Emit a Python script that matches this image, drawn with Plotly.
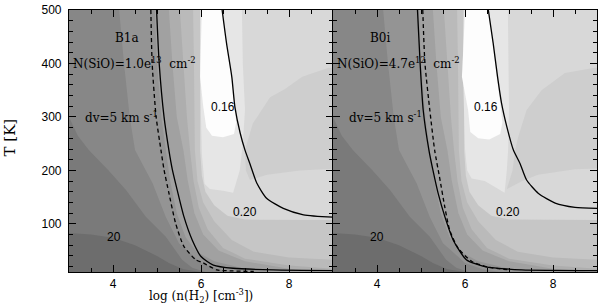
import plotly.graph_objects as go

# ---------------- data ----------------
x_range = [3, 9]          # log n(H2)
t_range = [10, 500]       # T [K]
x_ticks = [4, 6, 8]
t_ticks = [100, 200, 300, 400, 500]
pad_x = [2.5, 9.5]        # used only to close filled regions outside the frame
pad_t = [-20, 530]

# grey levels, dark -> light
shade_colors = ["#6d6d6d", "#7a7a7a", "#878787", "#949494", "#a1a1a1", "#aeaeae",
                "#bababa", "#c6c6c6", "#d8d8d8", "#e6e6e6", "#fdfdfd"]
blob_color = "#cecece"

# boundaries between grey level k-1 and k (darker side = left / below)
edge1_x = [3.0, 3.5, 4.0, 4.5, 5.0, 5.27, 5.6, 6.0]
edge1_t = [83, 80, 74, 60, 40, 27, 15, 10]
edge2_x = [3.0, 3.2, 3.45, 3.9, 4.3, 4.75, 5.2, 5.57, 5.8, 6.1]
edge2_t = [300, 265, 238, 200, 163, 113, 76, 33, 18, 10]
edge3_x = [4.14, 4.25, 4.38, 4.5, 4.9, 5.2, 5.5, 6.0, 6.4, 6.8]
edge3_t = [500, 400, 300, 238, 176, 113, 64, 27, 15, 10]
edge4_x = [4.95, 5.0, 5.1, 5.2, 5.3, 5.45, 5.65, 5.9, 6.3, 7.0, 7.6]
edge4_t = [500, 400, 300, 238, 180, 120, 75, 48, 30, 16, 10]
edge5_x = [5.27, 5.35, 5.45, 5.6, 5.7, 5.85, 6.05, 6.4, 7.0, 8.0, 8.8]
edge5_t = [500, 400, 300, 238, 180, 120, 80, 50, 30, 16, 10]
edge6_x = [5.52, 5.6, 5.68, 5.75, 5.83, 5.95, 6.15, 6.5, 7.0, 8.0, 9.0]
edge6_t = [500, 400, 300, 238, 180, 130, 90, 55, 35, 22, 16]
edge7_x = [5.82, 5.84, 5.85, 5.86, 5.92, 6.05, 6.3, 6.7, 7.2, 8.0, 9.0]
edge7_t = [500, 400, 300, 238, 180, 140, 105, 70, 48, 37, 33]
edge8_x = [5.98, 5.98, 5.98, 5.98, 6.02, 6.1, 6.3, 6.6, 7.0, 8.0, 9.0]
edge8_t = [500, 400, 300, 238, 190, 160, 135, 115, 108, 107, 107]

# islands, B1a panel
b1a_blob_x = [9.5, 8.9, 8.3, 7.9, 7.57, 7.18, 7.0, 7.02, 7.11, 7.5, 8.25, 9.5]
b1a_blob_t = [392, 392, 375, 352, 337, 288, 238, 200, 182, 192, 200, 205]
b1a_light_x = [5.99, 5.98, 6.0, 6.02, 6.08, 6.2, 6.5, 6.73, 6.88, 6.95, 7.0, 6.95, 6.93]
b1a_light_t = [500, 400, 300, 230, 175, 165, 162, 158, 200, 250, 313, 400, 500]
b1a_white_x = [6.02, 6.0, 5.98, 6.05, 6.12, 6.25, 6.5, 6.75, 6.8, 6.76, 6.7, 6.58, 6.48]
b1a_white_t = [500, 440, 375, 320, 280, 265, 262, 268, 290, 320, 375, 438, 500]

# islands, B0i panel
b0i_blob_x = [9.5, 8.95, 8.27, 7.74, 7.4, 7.21, 7.14, 7.08, 6.95, 7.3, 7.66, 8.5, 9.5]
b0i_blob_t = [392, 392, 382, 350, 313, 263, 238, 200, 165, 180, 192, 202, 205]
b0i_light_x = [5.97, 5.95, 5.98, 6.0, 6.05, 6.15, 6.45, 6.9, 6.95, 6.98, 7.0, 6.98, 6.97]
b0i_light_t = [500, 400, 300, 240, 200, 185, 180, 158, 200, 238, 313, 400, 500]
b0i_white_x = [6.0, 5.97, 5.93, 6.07, 6.12, 6.3, 6.55, 6.8, 6.85, 6.8, 6.72, 6.64, 6.53]
b0i_white_t = [500, 440, 375, 313, 272, 260, 258, 268, 290, 326, 375, 438, 500]

# black contour curves, B1a
b1a_solid_x = [4.99, 5.05, 5.16, 5.27, 5.35, 5.46, 5.61, 5.8, 6.0, 6.28, 6.73, 7.64, 9.0]
b1a_solid_t = [500, 400, 300, 238, 201, 163, 114, 70, 39, 23, 17, 14, 12.7]
b1a_dash_x = [4.86, 4.89, 4.98, 5.09, 5.16, 5.27, 5.42, 5.61, 5.88, 6.05, 6.36, 6.73, 7.2]
b1a_dash_t = [500, 400, 300, 238, 201, 158, 102, 58, 33, 27, 14, 12, 11]
b1a_ratio_x = [6.48, 6.58, 6.7, 6.77, 6.89, 7.0, 7.11, 7.27, 7.49, 7.87, 8.33, 9.0]
b1a_ratio_t = [500, 438, 375, 319, 270, 238, 213, 176, 148, 129, 117, 112.5]

# black contour curves, B0i
b0i_solid_x = [4.92, 4.98, 5.05, 5.18, 5.27, 5.39, 5.54, 5.73, 6.03, 6.45, 7.29, 9.0]
b0i_solid_t = [500, 400, 313, 238, 201, 157, 114, 70, 33, 20, 14, 12.7]
b0i_dash_x = [5.04, 5.09, 5.2, 5.31, 5.42, 5.54, 5.65, 5.84, 6.15, 6.53, 7.0]
b0i_dash_t = [500, 400, 313, 238, 188, 132, 89, 55, 30, 19, 14]
b0i_ratio_x = [6.53, 6.64, 6.74, 6.83, 6.95, 7.1, 7.25, 7.4, 7.67, 8.05, 8.5, 9.0]
b0i_ratio_t = [500, 438, 375, 326, 282, 238, 213, 182, 157, 139, 131, 129]

panel_names = ["B1a", "B0i"]
column_labels = ["N(SiO)=1.0e<sup>13</sup>  cm<sup>-2</sup>", "N(SiO)=4.7e<sup>12</sup>  cm<sup>-2</sup>"]
width_label = "dv=5 km s<sup>-1</sup>"
level_labels = ["0.16", "0.20", "20"]
# label anchor positions (x, T) per panel
b1a_label_x = [4.32, 3.05, 3.32, 6.5, 7.0, 4.02]
b1a_label_t = [448, 400, 300, 319, 122, 75]
b0i_label_x = [4.06, 3.04, 3.32, 6.48, 6.98, 4.0]
b0i_label_t = [448, 400, 300, 319, 122, 75]

# ---------------- figure ----------------
fig = go.Figure()
edges_x = [edge1_x, edge2_x, edge3_x, edge4_x, edge5_x, edge6_x, edge7_x, edge8_x]
edges_t = [edge1_t, edge2_t, edge3_t, edge4_t, edge5_t, edge6_t, edge7_t, edge8_t]


def poly(xa, ya, xs, ts, color):
    fig.add_trace(go.Scatter(x=xs, y=ts, mode="lines", fill="toself", fillcolor=color,
                             line=dict(width=0, color=color), hoverinfo="skip",
                             xaxis=xa, yaxis=ya))


def darker_side(xs, ts):
    px = list(xs)
    pt = list(ts)
    if pt[0] >= t_range[1]:
        px = [px[0]] + px
        pt = [pad_t[1]] + pt
    if px[-1] >= x_range[1]:
        px = px + [pad_x[1], pad_x[1]]
        pt = pt + [pt[-1], pad_t[0]]
    else:
        px = px + [px[-1]]
        pt = pt + [pad_t[0]]
    px = px + [pad_x[0], pad_x[0]]
    pt = pt + [pad_t[0], pad_t[1]]
    return px, pt


def island(xs, ts):
    px = list(xs)
    pt = list(ts)
    if pt[0] >= t_range[1] and pt[-1] >= t_range[1]:
        px = [px[0]] + px + [px[-1]]
        pt = [pad_t[1]] + pt + [pad_t[1]]
    return px, pt


panels = [
    ("x", "y", (b1a_blob_x, b1a_blob_t), (b1a_light_x, b1a_light_t), (b1a_white_x, b1a_white_t),
     (b1a_solid_x, b1a_solid_t), (b1a_dash_x, b1a_dash_t), (b1a_ratio_x, b1a_ratio_t),
     b1a_label_x, b1a_label_t),
    ("x2", "y2", (b0i_blob_x, b0i_blob_t), (b0i_light_x, b0i_light_t), (b0i_white_x, b0i_white_t),
     (b0i_solid_x, b0i_solid_t), (b0i_dash_x, b0i_dash_t), (b0i_ratio_x, b0i_ratio_t),
     b0i_label_x, b0i_label_t),
]

annotations = []
for i, (xa, ya, blob, light, white, solid, dash, ratio, lx, lt) in enumerate(panels):
    for k in range(len(edges_x) - 1, -1, -1):
        px, pt = darker_side(edges_x[k], edges_t[k])
        poly(xa, ya, px, pt, shade_colors[k])
    px, pt = island(*blob)
    poly(xa, ya, px, pt, blob_color)
    px, pt = island(*light)
    poly(xa, ya, px, pt, shade_colors[9])
    px, pt = island(*white)
    poly(xa, ya, px, pt, shade_colors[10])
    for (cx, ct), dsh in [(solid, "solid"), (dash, "4px,3px"), (ratio, "solid")]:
        fig.add_trace(go.Scatter(x=cx, y=ct, mode="lines",
                                 line=dict(color="black", width=1.3, dash=dsh, shape="spline", smoothing=0.6),
                                 hoverinfo="skip", xaxis=xa, yaxis=ya))
    serif = dict(family="DejaVu Serif", size=12, color="black")
    sans = dict(family="Liberation Sans", size=12, color="black")
    annotations += [
        dict(x=lx[0], y=lt[0], xref=xa, yref=ya, text=panel_names[i], showarrow=False, font=serif),
        dict(x=lx[1], y=lt[1], xref=xa, yref=ya, text=column_labels[i], showarrow=False,
             xanchor="left", font=serif),
        dict(x=lx[2], y=lt[2], xref=xa, yref=ya, text=width_label, showarrow=False,
             xanchor="left", font=serif),
        dict(x=lx[3], y=lt[3], xref=xa, yref=ya, text=level_labels[0], showarrow=False, font=sans),
        dict(x=lx[4], y=lt[4], xref=xa, yref=ya, text=level_labels[1], showarrow=False, font=sans),
        dict(x=lx[5], y=lt[5], xref=xa, yref=ya, text=level_labels[2], showarrow=False, font=sans),
    ]

annotations += [
    dict(x=-0.112, y=0.513, xref="paper", yref="paper", text="T [K]", showarrow=False,
         xanchor="center", yanchor="middle", textangle=-90,
         font=dict(family="DejaVu Serif", size=15, color="black")),
    dict(x=0.25, y=-0.092, xref="paper", yref="paper",
         text="log (n(H<sub>2</sub>) [cm<sup>-3</sup>])", showarrow=False,
         xanchor="center", yanchor="middle",
         font=dict(family="DejaVu Serif", size=12, color="black")),
]

axis_common = dict(showline=True, linecolor="black", linewidth=1.2, mirror="ticks",
                   ticks="inside", ticklen=7, tickwidth=1.2, tickcolor="black",
                   showgrid=False, zeroline=False, automargin=False,
                   tickfont=dict(family="Liberation Sans", size=12, color="black"))
x_minor = dict(ticks="inside", ticklen=4, tickwidth=1, tickcolor="black", dtick=0.5, tick0=0, showgrid=False)
t_minor = dict(ticks="inside", ticklen=4, tickwidth=1, tickcolor="black", dtick=20, tick0=0, showgrid=False)

fig.update_layout(
    width=600, height=308, margin=dict(l=69, r=3, t=10, b=36),
    paper_bgcolor="white", plot_bgcolor=shade_colors[8], showlegend=False,
    xaxis=dict(domain=[0, 0.5], range=x_range, tickvals=x_ticks, minor=x_minor, **axis_common),
    xaxis2=dict(domain=[0.5, 1], range=x_range, tickvals=x_ticks, minor=x_minor, anchor="y2",
                **axis_common),
    yaxis=dict(range=t_range, tickvals=t_ticks, minor=t_minor, ticklabelstandoff=4, **axis_common),
    yaxis2=dict(range=t_range, tickvals=t_ticks, minor=t_minor, anchor="x2",
                showticklabels=False, **axis_common),
    annotations=annotations,
)

# remove the browser's default 8 px page margin so the 600x308 figure fills the window
fig.write_html("out.html", config={"displayModeBar": False},
               post_script="document.body.style.margin='0px';")
